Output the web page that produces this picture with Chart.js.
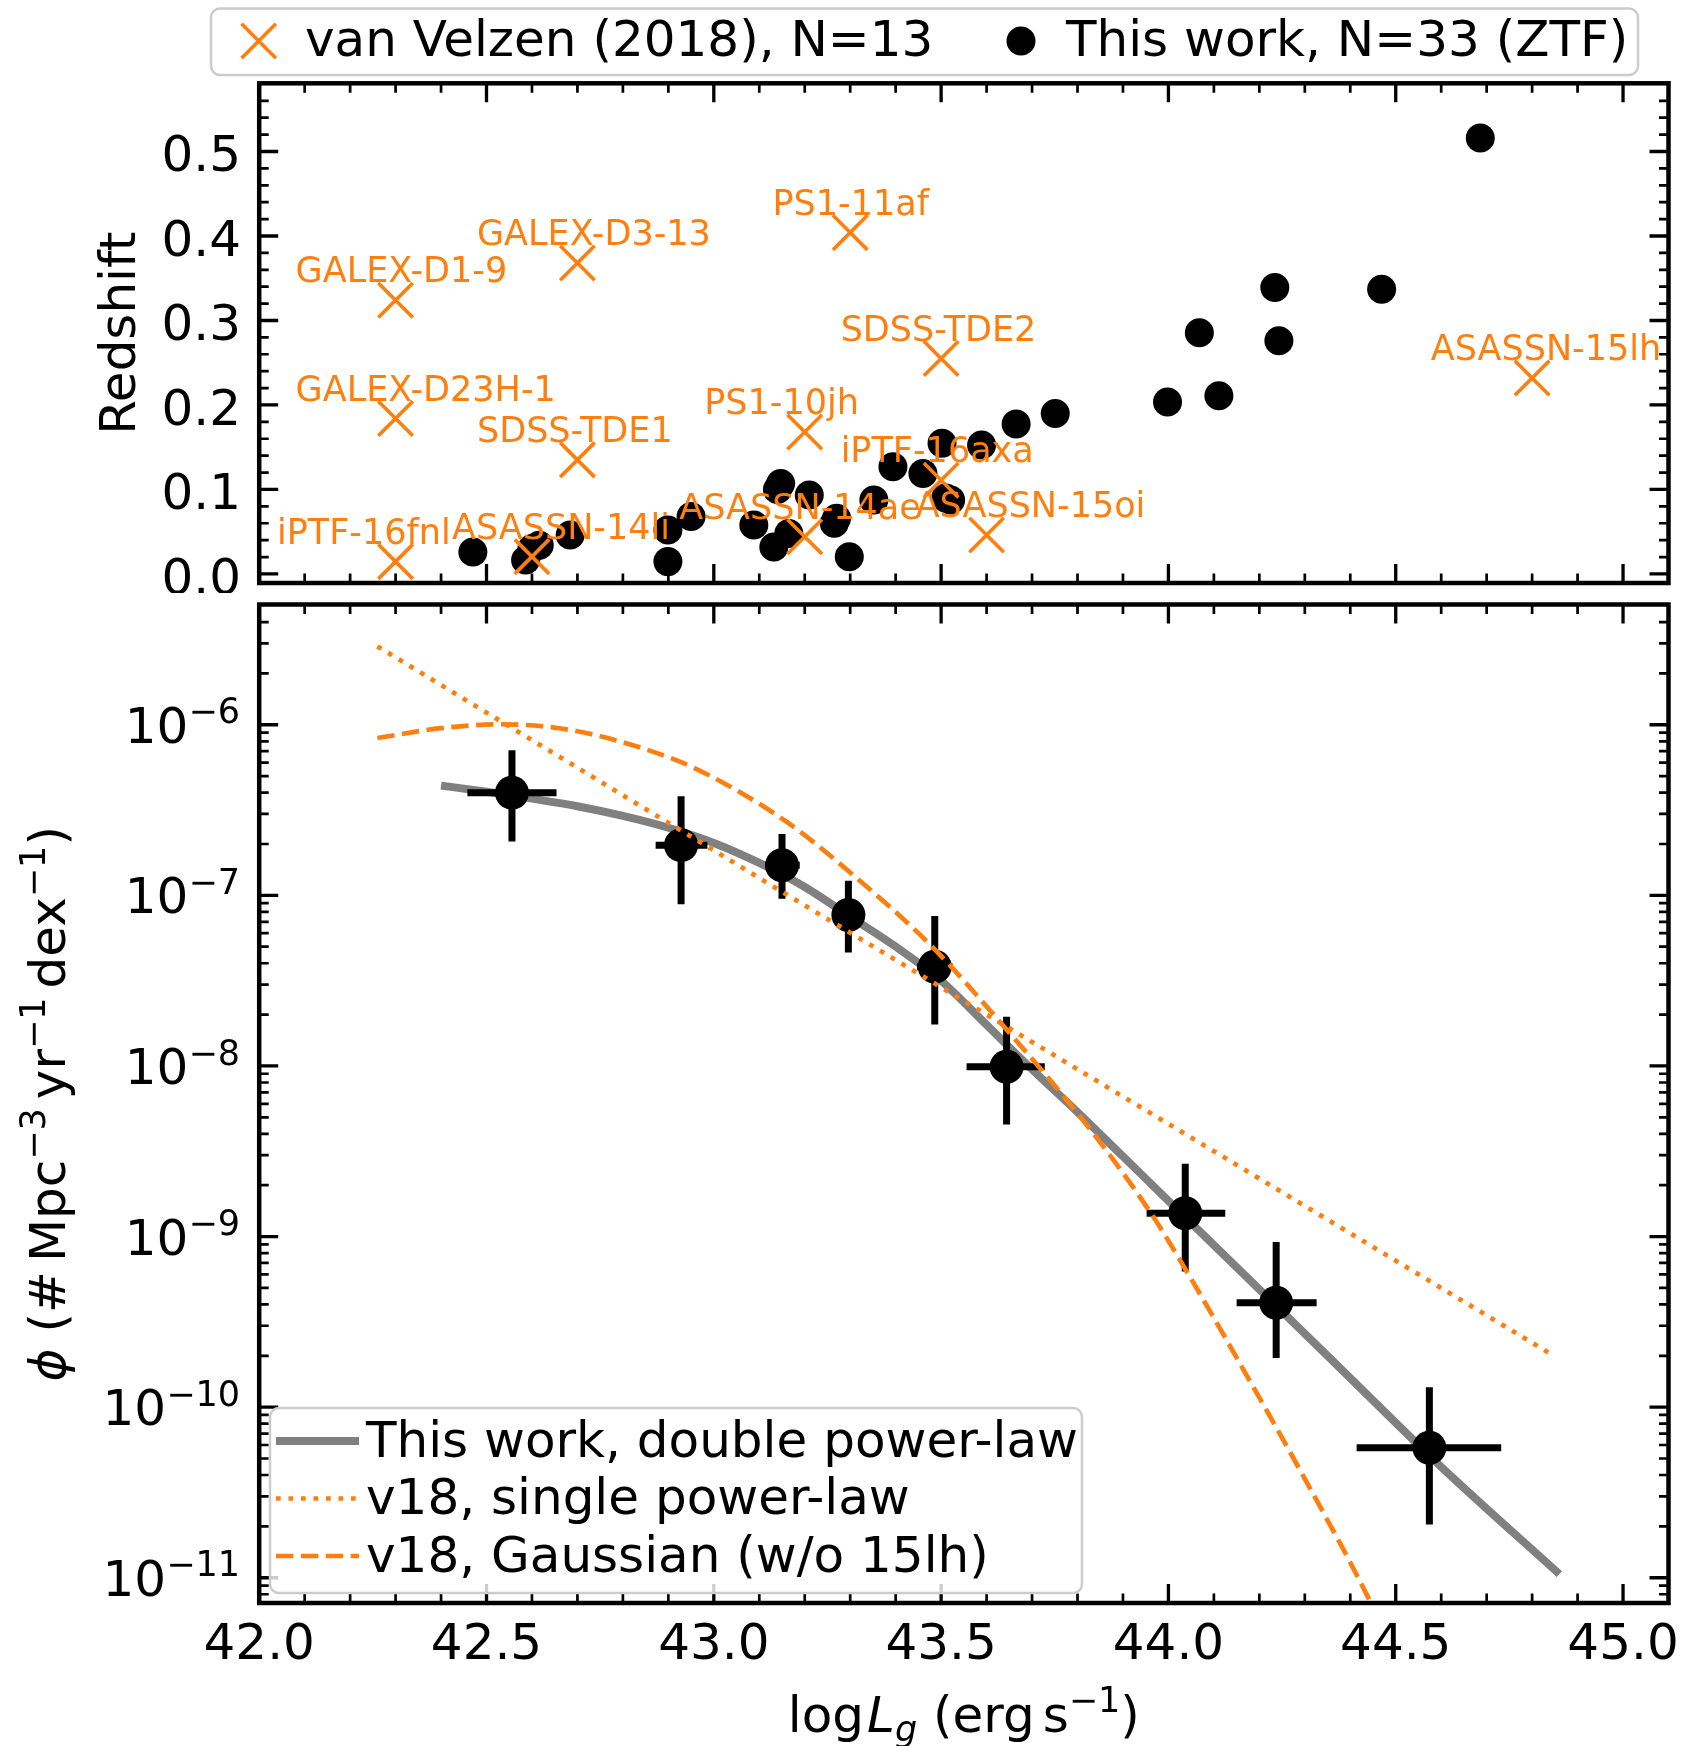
<!DOCTYPE html>
<html>
<head>
<meta charset="utf-8">
<title>TDE luminosity function</title>
<script src="https://cdn.jsdelivr.net/npm/chart.js@4.4.1/dist/chart.umd.min.js"></script>
<style>
  html, body { margin: 0; padding: 0; background: #fff; }
  #page { position: relative; width: 1684px; height: 1746px; overflow: hidden; background: #fff; }
  canvas { position: absolute; left: 0; }
</style>
</head>
<body>
<div id="page">
  <canvas id="zPanel" width="1684" height="593" style="top:0px"></canvas>
  <canvas id="phiPanel" width="1684" height="1153" style="top:593px"></canvas>
</div>
<script>
// --- top panel: van Velzen (2018) sample ---
var vvNames = ['GALEX-D1-9', 'GALEX-D3-13', 'PS1-11af', 'GALEX-D23H-1', 'SDSS-TDE1', 'PS1-10jh',
               'SDSS-TDE2', 'iPTF-16axa', 'ASASSN-15oi', 'ASASSN-14ae', 'ASASSN-14li', 'iPTF-16fnl', 'ASASSN-15lh'];
var vvLogL = [42.30, 42.70, 43.30, 42.30, 42.70, 43.20, 43.50, 43.50, 43.60, 43.20, 42.60, 42.30, 44.80];
var vvZ    = [0.324, 0.368, 0.404, 0.184, 0.135, 0.168, 0.255, 0.111, 0.046, 0.044, 0.0205, 0.0146, 0.232];
// where each name starts (logL)
var vvLabelX = [42.080, 42.479, 43.129, 42.080, 42.479, 42.979, 43.279, 43.279, 43.444, 42.924, 42.424, 42.039, 44.577];

// --- top panel: ZTF sample (this work) ---
var ztfLogL = [42.470, 42.586, 42.616, 42.684, 42.899, 42.899, 42.950, 43.088, 43.132, 43.147, 43.210,
               43.265, 43.298, 43.352, 43.394, 43.460, 43.502, 43.521, 43.589, 43.665, 43.751, 43.998,
               44.111, 44.068, 44.243, 44.234, 44.469, 44.686, 43.165, 43.510, 43.140, 42.600, 43.270];
var ztfZ    = [0.026, 0.0166, 0.034, 0.046, 0.052, 0.0146, 0.068, 0.058, 0.032, 0.107, 0.0935,
               0.060, 0.0205, 0.0876, 0.127, 0.119, 0.1547, 0.0876, 0.1527, 0.1775, 0.190, 0.2036,
               0.211, 0.2856, 0.276, 0.339, 0.337, 0.516, 0.048, 0.090, 0.100, 0.030, 0.066];

// --- bottom panel: binned luminosity function ---
var lfLogL   = [42.556, 42.928, 43.150, 43.296, 43.486, 43.644, 44.037, 44.237, 44.574];
var lfLogLLo = [42.458, 42.872, 43.113, 43.263, 43.447, 43.556, 43.952, 44.150, 44.414];
var lfLogLHi = [42.654, 42.986, 43.189, 43.329, 43.525, 43.728, 44.125, 44.326, 44.732];
var lfPhi    = [4.0e-7, 1.97e-7, 1.50e-7, 7.67e-8, 3.82e-8, 9.89e-9, 1.37e-9, 4.09e-10, 5.78e-11];
var lfPhiLo  = [2.07e-7, 8.87e-8, 9.55e-8, 4.62e-8, 1.75e-8, 4.54e-9, 6.24e-10, 1.94e-10, 2.05e-11];
var lfPhiHi  = [7.08e-7, 3.81e-7, 2.29e-7, 1.22e-7, 7.57e-8, 1.94e-8, 2.67e-9, 9.29e-10, 1.31e-10];

// --- bottom panel: model curves ---
var dplLogL = [42.40, 42.50, 42.60, 42.70, 42.80, 42.90, 43.00, 43.10, 43.20, 43.30, 43.40,
               43.50, 43.60, 43.70, 43.80, 43.90, 44.00, 44.20, 44.40, 44.60, 44.86];
var dplPhi  = [4.40e-7, 4.05e-7, 3.69e-7, 3.33e-7, 2.92e-7, 2.49e-7, 2.03e-7, 1.55e-7, 1.12e-7, 7.50e-8, 5.01e-8,
               3.16e-8, 1.74e-8, 9.55e-9, 5.37e-9, 2.95e-9, 1.62e-9, 4.90e-10, 1.48e-10, 4.47e-11, 1.05e-11];
var splLogL = [42.26, 43.15, 44.11, 44.845];
var splPhi  = [2.88e-6, 1.05e-7, 3.05e-9, 2.02e-10];
var gaussLogL = [42.26, 42.40, 42.53, 42.70, 42.91, 43.00, 43.16, 43.30, 43.48, 43.64, 43.82,
                 43.96, 44.05, 44.18, 44.30, 44.44, 44.60];
var gaussPhi  = [8.36e-7, 9.55e-7, 1.007e-6, 9.16e-7, 6.31e-7, 4.89e-7, 2.70e-7, 1.36e-7, 5.01e-8, 1.68e-8, 4.52e-9,
                 1.39e-9, 5.64e-10, 1.41e-10, 3.80e-11, 7.59e-12, 9.1e-13];

// --- ticks ---
var xTicks = [42.0, 42.5, 43.0, 43.5, 44.0, 44.5, 45.0];
var xTickLabels = ['42.0', '42.5', '43.0', '43.5', '44.0', '44.5', '45.0'];
var zTicks = [0.0, 0.1, 0.2, 0.3, 0.4, 0.5];
var zTickLabels = ['0.0', '0.1', '0.2', '0.3', '0.4', '0.5'];
var phiTicks = [1e-11, 1e-10, 1e-9, 1e-8, 1e-7, 1e-6];
var phiTickExp = ['\u221211', '\u221210', '\u22129', '\u22128', '\u22127', '\u22126'];

var ORANGE = '#ff7f0e';
var FONT = '"DejaVu Sans"';

function pts(xs, ys) {
  return xs.map(function(x, i) { return {x: x, y: ys[i]}; });
}

var xMinor = [], zMinor = [], phiMinor = [];
for (var i = 1; i <= 31; i++) { if (i % 5) xMinor.push(42 + i / 10); }
for (var j = 1; j <= 29; j++) { if (j % 5) zMinor.push(j / 50); }
for (var e = -12; e <= -5; e++) { for (var m = 2; m <= 9; m++) phiMinor.push(m * Math.pow(10, e)); }

function fontOf(p) { return (p.it ? 'italic ' : '') + (p.size || 50) + 'px ' + FONT; }

// text with super/subscripts: parts = [{t, size, it, dy, gap}]
function drawMath(ctx, parts, x, y, align) {
  var w = 0;
  parts.forEach(function(p) { ctx.font = fontOf(p); w += ctx.measureText(p.t).width + (p.gap || 0); });
  var cx = align === 'right' ? x - w : (align === 'center' ? x - w / 2 : x);
  ctx.textAlign = 'left';
  ctx.textBaseline = 'alphabetic';
  parts.forEach(function(p) {
    ctx.font = fontOf(p);
    ctx.fillText(p.t, cx, y + (p.dy || 0));
    cx += ctx.measureText(p.t).width + (p.gap || 0);
  });
}

function roundBox(ctx, x, y, w, h, r) {
  ctx.beginPath();
  ctx.moveTo(x + r, y);
  ctx.lineTo(x + w - r, y); ctx.arcTo(x + w, y, x + w, y + r, r);
  ctx.lineTo(x + w, y + h - r); ctx.arcTo(x + w, y + h, x + w - r, y + h, r);
  ctx.lineTo(x + r, y + h); ctx.arcTo(x, y + h, x, y + h - r, r);
  ctx.lineTo(x, y + r); ctx.arcTo(x, y, x + r, y, r);
  ctx.closePath();
  ctx.fillStyle = 'rgba(255,255,255,0.8)';
  ctx.fill();
  ctx.strokeStyle = '#cccccc';
  ctx.lineWidth = 2.5;
  ctx.stroke();
}

// spines + inward ticks on all four sides
function frame(chart, xMaj, xMin, yMaj, yMin) {
  var ctx = chart.ctx, a = chart.chartArea, xs = chart.scales.x, ys = chart.scales.y;
  ctx.save();
  ctx.strokeStyle = '#000';
  ctx.lineCap = 'butt';
  function marks(vals, len, w, vert) {
    ctx.lineWidth = w;
    ctx.beginPath();
    vals.forEach(function(v) {
      if (vert) {
        var px = xs.getPixelForValue(v);
        if (px < a.left + 2 || px > a.right - 2) return;
        ctx.moveTo(px, a.bottom); ctx.lineTo(px, a.bottom - len);
        ctx.moveTo(px, a.top); ctx.lineTo(px, a.top + len);
      } else {
        var py = ys.getPixelForValue(v);
        if (py < a.top + 2 || py > a.bottom - 2) return;
        ctx.moveTo(a.left, py); ctx.lineTo(a.left + len, py);
        ctx.moveTo(a.right, py); ctx.lineTo(a.right - len, py);
      }
    });
    ctx.stroke();
  }
  marks(xMin, 9.5, 2.7, true);
  marks(xMaj, 19, 3.3, true);
  marks(yMin, 9.5, 2.7, false);
  marks(yMaj, 19, 3.3, false);
  ctx.lineWidth = 4.5;
  ctx.strokeRect(a.left, a.top, a.right - a.left, a.bottom - a.top);
  ctx.restore();
}

var zDecor = {
  id: 'zDecor',
  afterDatasetsDraw: function(chart) {
    var ctx = chart.ctx, xs = chart.scales.x, ys = chart.scales.y;
    ctx.save();
    ctx.fillStyle = ORANGE;
    ctx.font = '35px ' + FONT;
    ctx.textAlign = 'left';
    ctx.textBaseline = 'alphabetic';
    vvNames.forEach(function(n, k) {
      ctx.fillText(n, xs.getPixelForValue(vvLabelX[k]), ys.getPixelForValue(vvZ[k]) - 17.7);
    });
    ctx.restore();
  },
  afterDraw: function(chart) {
    var ctx = chart.ctx, ys = chart.scales.y, ds = chart.data.datasets;
    frame(chart, xTicks, xMinor, zTicks, zMinor);
    ctx.save();
    ctx.fillStyle = '#000';
    ctx.font = '50px ' + FONT;
    ctx.textAlign = 'right';
    ctx.textBaseline = 'alphabetic';
    ys.ticks.forEach(function(t, k) {
      ctx.fillText(zTickLabels[k], 241, ys.getPixelForValue(t.value) + 20);
    });
    // y title
    ctx.save();
    ctx.translate(135, (chart.chartArea.top + chart.chartArea.bottom) / 2);
    ctx.rotate(-Math.PI / 2);
    ctx.textAlign = 'center';
    ctx.fillText('Redshift', 0, 0);
    ctx.restore();
    // legend
    roundBox(ctx, 211, 8.5, 1427, 66.5, 9);
    ctx.strokeStyle = ORANGE;
    ctx.lineWidth = 3.6;
    ctx.beginPath();
    ctx.moveTo(258.7 - 17.2, 41 - 17.2); ctx.lineTo(258.7 + 17.2, 41 + 17.2);
    ctx.moveTo(258.7 - 17.2, 41 + 17.2); ctx.lineTo(258.7 + 17.2, 41 - 17.2);
    ctx.stroke();
    ctx.fillStyle = '#000';
    ctx.beginPath();
    ctx.arc(1021, 41, 14.5, 0, Math.PI * 2);
    ctx.fill();
    ctx.textAlign = 'left';
    ctx.font = '50px ' + FONT;
    ctx.fillText(ds[0].label, 305, 56);
    ctx.fillText(ds[1].label, 1066, 56);
    ctx.restore();
  }
};

var phiDecor = {
  id: 'phiDecor',
  afterDraw: function(chart) {
    var ctx = chart.ctx, xs = chart.scales.x, ys = chart.scales.y, a = chart.chartArea;
    var ds = chart.data.datasets;
    frame(chart, xTicks, xMinor, phiTicks, phiMinor);
    ctx.save();
    ctx.fillStyle = '#000';
    // x tick labels
    ctx.font = '50px ' + FONT;
    ctx.textAlign = 'center';
    ctx.textBaseline = 'alphabetic';
    xs.ticks.forEach(function(t, k) {
      ctx.fillText(xTickLabels[k], xs.getPixelForValue(t.value), a.bottom + 55.5);
    });
    // y tick labels 10^n
    ys.ticks.forEach(function(t, k) {
      drawMath(ctx, [{t: '10'}, {t: phiTickExp[k], size: 35, dy: -19.4}], 240, ys.getPixelForValue(t.value) + 18, 'right');
    });
    // x title
    drawMath(ctx, [
      {t: 'log', gap: 3}, {t: 'L', it: 1}, {t: 'g', it: 1, size: 35, dy: 9}, {t: ' (erg', gap: 8},
      {t: 's'}, {t: '\u22121', size: 35, dy: -20}, {t: ')'}
    ], (a.left + a.right) / 2, a.bottom + 128.7, 'center');
    // y title
    ctx.save();
    ctx.translate(65, (a.top + a.bottom) / 2);
    ctx.rotate(-Math.PI / 2);
    drawMath(ctx, [
      {t: '\u03d5', it: 1}, {t: ' (#', gap: 9}, {t: 'Mpc'}, {t: '\u22123', size: 35, dy: -20, gap: 9},
      {t: 'yr'}, {t: '\u22121', size: 35, dy: -20, gap: 9}, {t: 'dex'}, {t: '\u22121', size: 35, dy: -20}, {t: ')'}
    ], 0, 0, 'center');
    ctx.restore();
    // legend
    roundBox(ctx, 270, 815, 812, 185, 9);
    var rows = [ds[4], ds[0], ds[1]];
    rows.forEach(function(d, k) {
      var hy = 848 + k * 57.5;
      ctx.save();
      ctx.strokeStyle = d.borderColor;
      ctx.lineWidth = d.borderWidth;
      ctx.setLineDash(d.borderDash || []);
      ctx.beginPath();
      ctx.moveTo(276, hy); ctx.lineTo(359, hy);
      ctx.stroke();
      ctx.restore();
      ctx.fillStyle = '#000';
      ctx.font = '50px ' + FONT;
      ctx.textAlign = 'left';
      ctx.fillText(d.label, 366, hy + 15.7);
    });
    ctx.restore();
  }
};

var errPts = [];
lfLogL.forEach(function(x, k) {
  errPts.push({x: lfLogLLo[k], y: lfPhi[k]}, {x: lfLogLHi[k], y: lfPhi[k]}, {x: x, y: null},
              {x: x, y: lfPhiLo[k]}, {x: x, y: lfPhiHi[k]}, {x: x, y: null});
});

var common = {
  responsive: false,
  animation: false,
  devicePixelRatio: 1,
  events: [],
  plugins: { legend: { display: false }, tooltip: { enabled: false } }
};

new Chart(document.getElementById('zPanel'), {
  type: 'scatter',
  data: {
    datasets: [
      { label: 'van Velzen (2018), N=13', data: pts(vvLogL, vvZ), pointStyle: 'crossRot', pointRadius: 24.4,
        pointBorderColor: ORANGE, pointBackgroundColor: ORANGE, pointBorderWidth: 3.6, order: 0 },
      { label: 'This work, N=33 (ZTF)', data: pts(ztfLogL, ztfZ), pointStyle: 'circle', pointRadius: 14.5,
        pointBorderColor: '#000', pointBackgroundColor: '#000', pointBorderWidth: 0, order: 1 }
    ]
  },
  options: Object.assign({}, common, {
    layout: { autoPadding: false, padding: { top: 83.3, right: 15.5, left: 0, bottom: 0 } },
    scales: {
      x: { type: 'linear', min: 42, max: 45.1, grid: { display: false }, border: { display: false },
           ticks: { display: false },
           afterBuildTicks: function(s) { s.ticks = xTicks.map(function(v) { return {value: v}; }); },
           afterFit: function(s) { s.height = 10; } },
      y: { type: 'linear', min: -0.0107, max: 0.5807, grid: { display: false }, border: { display: false },
           ticks: { display: false },
           afterBuildTicks: function(s) { s.ticks = zTicks.map(function(v) { return {value: v}; }); },
           afterFit: function(s) { s.width = 259.2; } }
    }
  }),
  plugins: [zDecor]
});

new Chart(document.getElementById('phiPanel'), {
  type: 'scatter',
  data: {
    datasets: [
      { label: 'v18, single power-law', data: pts(splLogL, splPhi), showLine: true, pointRadius: 0,
        borderColor: ORANGE, borderWidth: 4.7, borderDash: [4.7, 7.8], order: 0, clip: 0 },
      { label: 'v18, Gaussian (w/o 15lh)', data: pts(gaussLogL, gaussPhi), showLine: true, pointRadius: 0,
        borderColor: ORANGE, borderWidth: 4.7, borderDash: [17.4, 7.5], cubicInterpolationMode: 'monotone',
        order: 1, clip: 0 },
      { label: 'binned', data: pts(lfLogL, lfPhi), pointStyle: 'circle', pointRadius: 17,
        pointBackgroundColor: '#000', pointBorderColor: '#000', pointBorderWidth: 0, order: 2 },
      { label: 'errors', data: errPts, showLine: true, spanGaps: false, pointRadius: 0,
        borderColor: '#000', borderWidth: 7, order: 3, clip: 0 },
      { label: 'This work, double power-law', data: pts(dplLogL, dplPhi), showLine: true, pointRadius: 0,
        borderColor: '#808080', borderWidth: 8, borderJoinStyle: 'round', cubicInterpolationMode: 'monotone',
        order: 4, clip: 0 }
    ]
  },
  options: Object.assign({}, common, {
    layout: { autoPadding: false, padding: { top: 11.5, right: 15.5, left: 0, bottom: 0 } },
    scales: {
      x: { type: 'linear', min: 42, max: 45.1, grid: { display: false }, border: { display: false },
           ticks: { display: false },
           afterBuildTicks: function(s) { s.ticks = xTicks.map(function(v) { return {value: v}; }); },
           afterFit: function(s) { s.height = 143; } },
      y: { type: 'logarithmic', min: 7.11e-12, max: 5.07e-6, grid: { display: false }, border: { display: false },
           ticks: { display: false },
           afterBuildTicks: function(s) { s.ticks = phiTicks.map(function(v) { return {value: v}; }); },
           afterFit: function(s) { s.width = 259.2; } }
    }
  }),
  plugins: [phiDecor]
});
</script>
</body>
</html>
